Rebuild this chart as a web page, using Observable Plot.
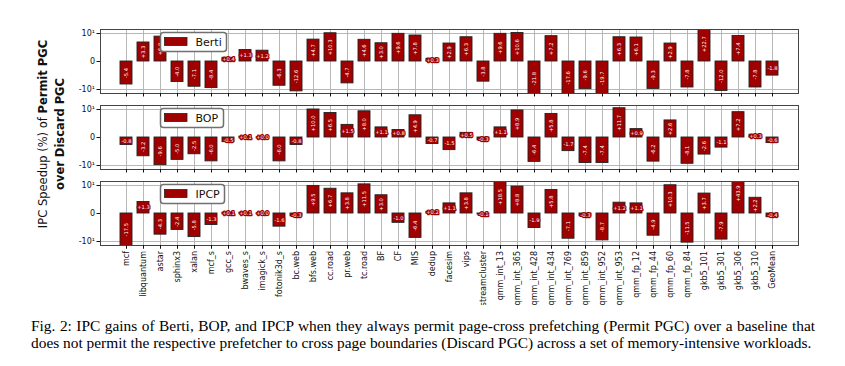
<!DOCTYPE html>
<html><head><meta charset="utf-8">
<script src="https://cdn.jsdelivr.net/npm/d3@7"></script>
<script src="https://cdn.jsdelivr.net/npm/@observablehq/plot@0.6"></script>
<style>
body{margin:0;background:#fff;width:845px;height:366px;position:relative;overflow:hidden}
#chart{position:absolute;left:0;top:0}
#caption{position:absolute;left:31px;top:317px;width:784px;font-family:"Liberation Serif",serif;font-size:15.4px;line-height:17px;color:#000}
.l1{text-align:justify;text-align-last:justify;white-space:nowrap}
.l2{white-space:nowrap}
</style></head><body>
<div id="chart"></div>
<div id="caption"><div class="l1">Fig. 2: IPC gains of Berti, BOP, and IPCP when they always permit page-cross prefetching (Permit PGC) over a baseline that</div><div class="l2">does not permit the respective prefetcher to cross page boundaries (Discard PGC) across a set of memory-intensive workloads.</div></div>
<script>
const categories = ["mcf","libquantum","astar","sphinx3","xalan","mcf_s","gcc_s","bwaves_s","imagick_s","fotonik3d_s","bc.web","bfs.web","cc.road","pr.web","tc.road","BF","CF","MIS","dedup","facesim","vips","streamcluster","qmm_int_13","qmm_int_365","qmm_int_428","qmm_int_434","qmm_int_769","qmm_int_859","qmm_int_952","qmm_int_953","qmm_fp_12","qmm_fp_44","qmm_fp_60","qmm_fp_84","gkb5_101","gkb5_301","gkb5_306","gkb5_310","GeoMean"];
const berti = [-5.4, 3.3, 6.8, -4.0, -7.1, -8.4, 0.4, 1.3, 1.2, -6.3, -12.6, 4.7, 10.3, -4.7, 4.6, 3.0, 9.6, 7.8, 0.3, 2.9, 6.3, -3.8, 9.6, 10.6, -21.8, 7.2, -17.6, -9.6, -19.7, 6.3, 6.1, -9.3, 2.9, -7.8, 22.7, -12.0, 7.4, -7.8, -1.8];
const bop = [-0.8, -3.2, -9.6, -5.0, -2.5, -6.0, -0.5, 0.1, 0.0, -6.0, -0.8, 10.0, 6.5, 1.5, 8.0, 1.1, 0.8, 4.9, -0.7, -1.5, 0.5, -0.3, 1.1, 8.9, -6.4, 5.8, -1.7, -7.4, -7.4, 11.7, 0.9, -6.2, 2.6, -8.1, -2.6, -1.1, 7.2, 0.3, -0.6];
const ipcp = [-17.5, 1.3, -4.3, -2.4, -5.8, -1.3, 0.1, 0.1, 0.0, -1.6, -0.3, 9.5, 6.7, 3.8, 11.5, 3.0, -1.0, -6.4, 0.2, 1.1, 3.8, -0.1, 18.5, 8.8, -1.9, 5.8, -7.1, -0.3, -8.7, 1.2, 1.1, -4.9, 10.3, -11.5, 3.7, -7.9, 43.9, 2.2, -0.4];
const seriesNames = ["Berti", "BOP", "IPCP"];
const yTickValues = [-10, 0, 10];
const yTickLabels = ["-10¹", "0", "10¹"];
const gridValues = [-10, 10];

const RED = "#a00000";
const A = 0.5;
const f = v => Math.sign(v) * (Math.abs(v) <= 1 ? A * Math.abs(v) : A + Math.log10(Math.abs(v)));
const D = f(10) * 32 / 28;

const seriesValues = [berti, bop, ipcp];
const table = seriesNames.flatMap((name, i) => seriesValues[i].map((v, j) => ({panel: name, cat: categories[j], v})));
const fmt = v => (v < 0 ? "-" : "+") + Math.abs(v).toFixed(1);
const vertical = table.filter(d => Math.abs(d.v) >= 2);
const horizontal = table.filter(d => Math.abs(d.v) < 2);

const chart = Plot.plot({
  width: 845, height: 305,
  marginLeft: 100, marginRight: 47, marginTop: 28, marginBottom: 60,
  style: {fontFamily: "DejaVu Sans", fontSize: "8px", color: "#111", background: "white"},
  x: {domain: categories, padding: 0.3, label: null},
  y: {domain: [-D, D], label: null},
  fy: {domain: seriesNames, paddingInner: 0.163, paddingOuter: 0, axis: null, label: null},
  marks: [
    Plot.gridX({stroke: "#b0b0b0", strokeOpacity: 1, strokeWidth: 0.9}),
    Plot.gridY({ticks: gridValues.map(f), stroke: "#b0b0b0", strokeOpacity: 1, strokeWidth: 0.9}),
    Plot.barY(table, {x: "cat", y1: 0, y2: d => f(d.v), fy: "panel", fill: RED, stroke: "#222", strokeWidth: 0.9, clip: true}),
    Plot.text(vertical, {x: "cat", y: d => f(d.v) / 2, fy: "panel", text: d => fmt(d.v), rotate: -90, fill: "white", fontSize: 5.2}),
    Plot.text(horizontal, {x: "cat", y: d => f(d.v) / 2, fy: "panel", text: d => fmt(d.v), fill: "white", stroke: RED, strokeWidth: 2.5, fontSize: 5.2}),
    Plot.frame({stroke: "#444", strokeWidth: 1}),
    Plot.axisY({ticks: yTickValues.map(f), tickFormat: d => yTickLabels[yTickValues.map(f).indexOf(d)], tickSize: 3.5, tickPadding: 2, label: null, fontSize: 8}),
    Plot.axisX({facetAnchor: null, tickSize: 3.5, tickFormat: () => "", label: null}),
    Plot.axisX({tickRotate: -90, tickSize: 3.5, tickPadding: 2, label: null, fontSize: 8})
  ]
});
document.getElementById("chart").appendChild(chart);

const svg = d3.select(chart);
const tg = svg.append("g").attr("font-family", "DejaVu Sans").attr("font-size", 11.5).attr("fill", "#111");
const t1 = tg.append("text").attr("transform", "translate(43,134) rotate(-90)").attr("text-anchor", "middle").attr("dominant-baseline", "central");
t1.append("tspan").text("IPC Speedup (%) of ");
t1.append("tspan").attr("font-weight", "bold").text("Permit PGC");
tg.append("text").attr("transform", "translate(60,134) rotate(-90)").attr("text-anchor", "middle").attr("dominant-baseline", "central").attr("font-weight", "bold").text("over Discard PGC");

const fy = chart.scale("fy");
seriesNames.forEach(name => {
  const top = fy.apply(name);
  const lg = svg.append("g").attr("transform", `translate(160.5,${top + 3.5})`).attr("font-family", "DejaVu Sans").attr("text-anchor", "start");
  const tx = lg.append("text").attr("x", 35).attr("y", 9.5).attr("dy", "0.35em").attr("font-size", 11).attr("fill", "#111").text(name);
  let tw = 0;
  try { tw = tx.node().getComputedTextLength(); } catch (e) { tw = 0; }
  if (!(tw > 0)) tw = name.length * 6.5;
  const w = Math.round(35 + tw + 5);
  lg.insert("path", "text").attr("d", `M3,0H${w - 3}Q${w},0 ${w},3V16Q${w},19 ${w - 3},19H3Q0,19 0,16V3Q0,0 3,0Z`)
    .attr("fill", "white").attr("stroke", "#707070").attr("stroke-width", 1.5);
  lg.insert("rect", "text").attr("x", 4).attr("y", 5).attr("width", 22.5).attr("height", 8).attr("fill", RED).attr("stroke", "#222").attr("stroke-width", 0.8);
});
</script>
</body></html>
